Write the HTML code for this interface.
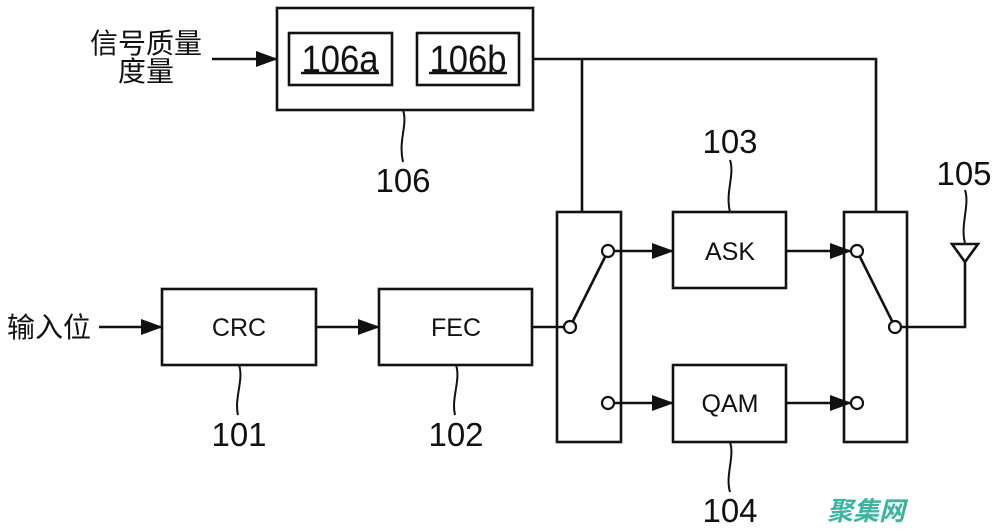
<!DOCTYPE html>
<html><head><meta charset="utf-8"><style>
html,body{margin:0;padding:0;background:#fff;}
svg{display:block;}
text{font-family:"Liberation Sans","Noto Sans CJK SC",sans-serif;fill:#111;}
</style></head><body>
<svg width="1000" height="530" viewBox="0 0 1000 530" xmlns="http://www.w3.org/2000/svg">
<defs>
<marker id="a" markerWidth="22" markerHeight="16" refX="21" refY="8" orient="auto" markerUnits="userSpaceOnUse">
<path d="M0,0 L22,8 L0,16 Z" fill="#111"/></marker>
</defs>
<g stroke="#111" stroke-width="2.6" fill="none">
<rect x="277" y="8" width="256" height="102"/>
<rect x="289" y="33" width="103" height="52"/>
<rect x="417" y="33" width="102" height="52"/>
<line x1="212" y1="59" x2="277" y2="59" marker-end="url(#a)"/>
<polyline points="533,59 876,59 876,212"/>
<line x1="582" y1="59" x2="582" y2="212"/>
<rect x="162" y="289" width="154" height="76"/>
<rect x="379" y="289" width="153" height="76"/>
<line x1="99" y1="327" x2="162" y2="327" marker-end="url(#a)"/>
<line x1="316" y1="327" x2="379" y2="327" marker-end="url(#a)"/>
<line x1="532" y1="327" x2="564" y2="327"/>
<rect x="557" y="212" width="64" height="230"/>
<rect x="844" y="212" width="63" height="230"/>
<rect x="673" y="212" width="113" height="76"/>
<rect x="673" y="365" width="113" height="77"/>
<line x1="573" y1="321" x2="605" y2="257"/>
<line x1="614" y1="251" x2="673" y2="251" marker-end="url(#a)"/>
<line x1="614" y1="403" x2="673" y2="403" marker-end="url(#a)"/>
<line x1="786" y1="251" x2="851" y2="251" marker-end="url(#a)"/>
<line x1="786" y1="403" x2="851" y2="403" marker-end="url(#a)"/>
<line x1="860" y1="257" x2="892" y2="321"/>
<polyline points="901,327 965,327 965,262"/>
<path d="M952,244 L978,244 L965,262 Z"/>
</g>
<g stroke="#111" stroke-width="2.2" fill="#fff">
<circle cx="570" cy="327" r="6"/>
<circle cx="608" cy="251" r="6"/>
<circle cx="608" cy="403" r="6"/>
<circle cx="857" cy="251" r="6"/>
<circle cx="895" cy="327" r="6"/>
<circle cx="857" cy="403" r="6"/>
</g>
<g stroke="#111" stroke-width="2" fill="none">
<path d="M403,110 C408,125 398,140 403,162"/>
<path d="M239,365 C244,380 234,398 238,415"/>
<path d="M456,365 C461,380 451,398 455,415"/>
<path d="M730,160 C735,175 725,192 730,212"/>
<path d="M730,442 C735,457 725,475 730,492"/>
<path d="M965,190 C970,205 960,225 965,243"/>
</g>
<text x="340" y="72" font-size="38" text-anchor="middle" textLength="77" lengthAdjust="spacingAndGlyphs">106a</text>
<text x="468" y="72" font-size="38" text-anchor="middle" textLength="77" lengthAdjust="spacingAndGlyphs">106b</text>
<line x1="301" y1="73" x2="379" y2="73" stroke="#111" stroke-width="2.5"/>
<line x1="429" y1="73" x2="507" y2="73" stroke="#111" stroke-width="2.5"/>
<text x="146" y="53" font-size="28" text-anchor="middle">信号质量</text>
<text x="146" y="81" font-size="28" text-anchor="middle">度量</text>
<text x="49" y="337" font-size="28" text-anchor="middle">输入位</text>
<text x="239" y="336" font-size="25" text-anchor="middle">CRC</text>
<text x="456" y="336" font-size="25" text-anchor="middle">FEC</text>
<text x="730" y="260" font-size="25" text-anchor="middle">ASK</text>
<text x="730" y="412" font-size="25" text-anchor="middle">QAM</text>
<g font-size="33" text-anchor="middle">
<text x="403" y="192">106</text>
<text x="239" y="446">101</text>
<text x="456" y="446">102</text>
<text x="730" y="153">103</text>
<text x="730" y="522">104</text>
<text x="964" y="185">105</text>
</g>
<text x="866" y="520" font-size="26" font-weight="bold" font-style="italic" text-anchor="middle" style="fill:#3bb5a0">聚集网</text>
</svg>
</body></html>
